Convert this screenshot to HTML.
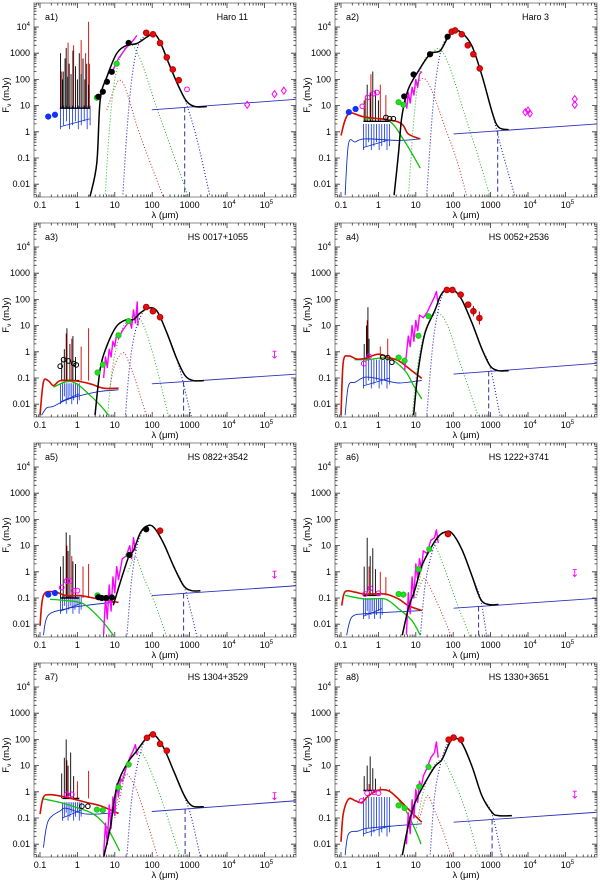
<!DOCTYPE html>
<html><head><meta charset="utf-8">
<style>
html,body{margin:0;padding:0;background:#fff;}
svg{display:block;font-family:"Liberation Sans",sans-serif;}
</style></head>
<body>
<svg id="fig" width="600" height="881" viewBox="0 0 600 881" xmlns="http://www.w3.org/2000/svg"></svg>
<script>
const panelLabels=["a1)","a2)","a3)","a4)","a5)","a6)","a7)","a8)"];
const galaxyNames=["Haro 11","Haro 3","HS 0017+1055","HS 0052+2536","HS 0822+3542","HS 1222+3741","HS 1304+3529","HS 1330+3651"];
const xTickLabels=["0.1","1","10","100","1000","10^4","10^5"];
const yTickLabels=["0.01","0.1","1","10","100","1000","10^4"];
// all values are [log10 lambda(um), log10 F(mJy)]
const totalModel=[
[[0.34,-2.46],[0.52,-1.19],[0.61,1.22],[0.79,2.1],[1.05,2.99],[1.32,3.3],[1.59,3.37],[1.86,3.62],[2.04,3.75],[2.21,3.43],[2.48,2.48],[2.75,1.6],[2.93,1.15],[3.15,0.96],[3.46,0.96]],
[[0.42,-2.42],[0.54,-0.78],[0.63,0.62],[0.8,1.63],[1.07,2.32],[1.38,2.96],[1.65,3.09],[1.83,3.53],[2.01,3.85],[2.23,3.78],[2.5,3.28],[2.77,2.14],[3.04,0.75],[3.21,0.18],[3.48,0.08]],
[[0.47,-2.42],[0.61,-0.66],[0.79,0.23],[1.05,0.98],[1.32,1.23],[1.5,1.23],[1.68,1.48],[1.9,1.67],[2.13,1.55],[2.39,0.73],[2.66,-0.28],[2.88,-0.91],[3.1,-1.1],[3.38,-1.1]],
[[0.94,-2.42],[1.07,-0.66],[1.25,0.73],[1.52,1.61],[1.65,2.11],[1.79,2.36],[2.01,2.36],[2.23,1.99],[2.5,1.11],[2.77,0.1],[2.99,-0.54],[3.21,-0.72],[3.48,-0.72]],
[[0.96,-1.28],[1.14,-0.43],[1.37,0.57],[1.5,0.81],[1.68,1.48],[1.86,1.75],[2.04,1.7],[2.3,1.1],[2.57,0.22],[2.84,-0.53],[3.06,-0.72],[3.29,-0.72]],
[[0.64,-2.42],[0.8,-1.41],[0.98,-0.66],[1.16,0.23],[1.43,0.98],[1.61,1.36],[1.79,1.52],[1.96,1.49],[2.23,0.86],[2.5,-0.15],[2.73,-1.04],[2.95,-1.25],[3.21,-1.25]],
[[0.7,-2.51],[0.88,-1.36],[1.05,0.17],[1.32,1.06],[1.59,1.57],[1.86,2.08],[2.04,2.19],[2.3,1.7],[2.57,0.81],[2.84,-0.09],[3.06,-0.53],[3.38,-0.57]],
[[0.64,-2.42],[0.8,-1.29],[0.98,-0.41],[1.25,0.35],[1.52,0.98],[1.7,1.23],[1.88,1.8],[2.01,2.05],[2.23,1.86],[2.5,0.98],[2.77,-0.16],[3.04,-0.79],[3.21,-0.91],[3.57,-0.91]]];
const radioLine=[[[1.99,0.84],[5.86,1.24]],[[2.01,-0.08],[5.86,0.3]],[[1.99,-1.22],[5.86,-0.85]],[[2.01,-0.85],[5.86,-0.44]],[[1.99,-0.91],[5.86,-0.53]],[[2.01,-1.39],[5.86,-1.01]],[[1.99,-0.75],[5.86,-0.34]],[[2.01,-1.16],[5.86,-0.78]]];
const dashX=[2.87,3.19,2.84,2.95,2.84,2.68,2.88,3.04];
const redStellar=[[],
[[-1,-0.14],[-0.8,0.68],[-0.36,0.56],[0.54,0.37],[0.8,-0.08],[1.12,-0.27]],
[[-1,-2.42],[-0.91,-1.16],[-0.78,-1.1],[-0.64,-1.29],[-0.46,-1.1],[-0.11,-1.1],[0.34,-1.22],[0.7,-1.39],[1.1,-1.39]],
[[-1,-2.42],[-0.94,-0.41],[-0.8,-0.16],[-0.58,-0.28],[-0.36,-0.25],[0,-0.09],[0.27,-0.22],[0.54,-0.34],[0.89,-0.72],[1.16,-1.01]],
[[-1,-2.06],[-0.91,-0.91],[-0.64,-0.76],[-0.29,-0.91],[0.07,-0.91],[0.61,-1.05],[1.1,-1.17]],
[[-0.98,-1.29],[-0.89,-0.76],[-0.62,-0.78],[-0.36,-0.85],[0.18,-0.85],[0.54,-1.04],[0.8,-1.29],[1.16,-1.48]],
[[-1,-0.85],[-0.91,-0.21],[-0.73,-0.11],[-0.29,-0.21],[0.25,-0.41],[0.61,-0.53],[1.1,-0.83]],
[[-1,-1.91],[-0.94,-0.85],[-0.8,-0.28],[-0.62,-0.34],[-0.45,-0.41],[-0.27,-0.16],[0,0.06],[0.27,0.04],[0.54,-0.28],[0.89,-0.79],[1.16,-1.16]]];
const greenStellar=[[],
[[-0.36,0.49],[0.27,0.43],[0.71,-0.39],[1.12,-1.39]],
[[-0.64,-1.35],[-0.29,-1.14],[-0.02,-1.22],[0.34,-1.66],[0.61,-2.04],[0.83,-2.42]],
[[-0.64,-0.3],[-0.29,-0.3],[0.27,-0.25],[0.71,-0.72],[0.94,-1.29],[1.16,-1.8]],
[[-0.73,-1.05],[-0.29,-1.1],[0.16,-1.22],[0.61,-1.79],[0.96,-2.42]],
[[-0.89,-0.9],[-0.36,-1.04],[0.18,-1.04],[0.54,-1.41],[0.89,-1.85],[1.12,-2.42]],
[[-0.91,-0.27],[-0.46,-0.41],[-0.02,-0.6],[0.43,-0.85],[0.79,-1.36],[1.13,-2.26]],
[[0.54,-0.3],[0.8,-0.88],[1.07,-1.73],[1.14,-2.0]]];
const blueStellar=[[],
[[-0.89,-2.42],[-0.8,-0.46],[-0.62,-0.39],[-0.36,-0.27],[0.54,-0.33],[1.12,-0.27]],
[[-0.96,-2.42],[-0.82,-2.14],[-0.64,-2.08],[-0.29,-1.83],[0.16,-1.64],[0.61,-1.51],[1.1,-1.45]],
[[-0.89,-2.42],[-0.8,-1.29],[-0.62,-1.16],[-0.36,-0.97],[0,-1.03],[0.54,-1.19],[1.16,-1.09]],
[[-0.91,-2.42],[-0.78,-1.66],[-0.29,-1.41],[0.25,-1.28],[1.1,-1.14]],
[[-0.85,-2.42],[-0.71,-1.73],[-0.36,-1.6],[0.18,-1.55],[1.16,-1.48]],
[[-0.91,-2.13],[-0.78,-1.11],[-0.46,-0.73],[-0.29,-0.63],[0.25,-0.85],[1.1,-0.79]],
[[-0.89,-2.42],[-0.8,-1.61],[-0.54,-1.5],[-0.36,-1.41],[0,-1.35],[0.54,-1.29],[1.16,-1.22]]];
const dotRed=[
[[0.79,0.84],[1.0,1.7],[1.14,1.97],[1.3,1.6],[1.6,0.2],[1.9,-1.0],[2.3,-2.5]],
[[0.98,1.66],[1.1,1.95],[1.25,2.01],[1.45,1.5],[1.8,0.1],[2.1,-1.1],[2.37,-2.5]],
[[0.85,-1.5],[1.0,-0.5],[1.23,-0.03],[1.4,-0.5],[1.6,-1.3],[1.86,-2.5]],
[],[],
[[1.0,-1.0],[1.15,-0.4],[1.25,-0.28],[1.45,-0.8],[1.7,-1.6],[1.96,-2.5]],
[[1.1,-0.5],[1.25,0.5],[1.35,0.65],[1.6,0.0],[1.85,-1.1],[2.15,-2.5]],
[[1.1,-1.0],[1.25,-0.3],[1.34,-0.16],[1.5,-0.7],[1.7,-1.4],[1.96,-2.5]]];
const dotGreen=[
[[0.74,-2.5],[0.85,0.0],[1.0,2.0],[1.2,3.0],[1.41,3.37],[1.7,2.7],[2.1,1.0],[2.5,-0.6],[2.97,-2.5]],
[[0.8,-2.5],[0.95,0.5],[1.1,2.2],[1.3,2.9],[1.5,3.1],[1.65,3.15],[1.9,2.5],[2.3,0.7],[2.7,-1.1],[2.99,-2.5]],
[[0.8,-2.5],[0.95,-0.5],[1.15,0.7],[1.35,1.2],[1.59,1.36],[1.8,0.9],[2.1,-0.5],[2.44,-2.5]],
[[0.9,-2.5],[1.05,-0.5],[1.25,0.8],[1.45,1.35],[1.61,1.48],[1.85,1.0],[2.2,-0.5],[2.68,-2.5]],
[[1.35,0.0],[1.5,0.5],[1.59,0.5],[1.8,-0.3],[2.1,-1.3],[2.39,-2.5]],
[[1.0,-1.0],[1.2,0.3],[1.4,0.9],[1.52,1.0],[1.8,0.0],[2.1,-1.2],[2.46,-2.5]],
[[1.0,-1.0],[1.2,0.6],[1.45,1.3],[1.68,1.51],[1.9,1.0],[2.3,-0.5],[2.75,-2.5]],
[[1.0,-1.5],[1.2,0.0],[1.45,0.9],[1.7,1.23],[1.9,0.8],[2.3,-0.6],[2.68,-2.5]]];
const dotBlue=[
[[1.21,-2.5],[1.35,0.5],[1.5,2.5],[1.68,3.49],[1.86,3.62],[2.04,3.75],[2.21,3.43],[2.48,2.48],[2.75,1.6],[2.93,1.0],[3.2,-0.3],[3.55,-2.5]],
[[1.29,-2.5],[1.45,0.8],[1.6,2.6],[1.75,3.4],[1.92,3.66],[2.05,3.85],[2.23,3.78],[2.5,3.28],[2.77,2.14],[3.04,0.75],[3.3,-0.7],[3.66,-2.5]],
[[1.28,-2.5],[1.4,-0.5],[1.55,0.8],[1.75,1.5],[1.9,1.67],[2.13,1.55],[2.39,0.73],[2.66,-0.28],[2.85,-1.3],[3.05,-2.5]],
[[1.29,-2.5],[1.45,0.2],[1.6,1.6],[1.75,2.3],[1.9,2.4],[2.01,2.36],[2.23,1.99],[2.5,1.11],[2.77,0.1],[2.99,-0.6],[3.26,-2.5]],
[[1.32,-2.5],[1.45,-0.3],[1.6,1.0],[1.75,1.6],[1.86,1.75],[2.04,1.7],[2.3,1.1],[2.57,0.22],[2.84,-0.53],[3.0,-1.3],[3.2,-2.5]],
[[1.12,-2.5],[1.25,-0.5],[1.45,0.8],[1.65,1.4],[1.79,1.52],[1.96,1.49],[2.23,0.86],[2.5,-0.15],[2.73,-1.04],[2.9,-2.5]],
[[1.32,-2.5],[1.45,-0.3],[1.6,1.0],[1.75,1.8],[1.86,2.08],[2.04,2.19],[2.3,1.7],[2.57,0.81],[2.84,-0.09],[3.05,-1.0],[3.29,-2.5]],
[[1.38,-2.5],[1.5,-0.2],[1.65,1.0],[1.8,1.7],[1.88,1.85],[2.01,2.05],[2.23,1.86],[2.5,0.98],[2.77,-0.16],[3.04,-0.85],[3.3,-2.5]]];
const irsSpectrum=[
[[0.79,2.1],[0.85,2.3],[0.9,2.2],[1.0,2.5],[1.1,2.8],[1.2,3.0],[1.3,3.2],[1.4,3.35],[1.5,3.5],[1.59,3.68]],
[[0.71,1.2],[0.76,0.9],[0.8,1.5],[0.85,1.1],[0.9,1.7],[0.95,1.4],[1.0,2.0],[1.05,1.7],[1.1,2.2],[1.16,2.3]],
[[0.7,-1.0],[0.75,-0.2],[0.8,-0.6],[0.85,0.1],[0.9,-0.2],[0.95,0.4],[1.0,0.2],[1.05,0.7],[1.1,0.5],[1.2,0.8],[1.3,1.0],[1.4,1.2],[1.45,0.9],[1.5,1.6],[1.55,1.1],[1.6,1.9],[1.62,1.0]],
[[0.7,-0.7],[0.75,-0.1],[0.8,0.6],[0.85,0.2],[0.9,1.0],[0.95,0.4],[1.0,1.2],[1.05,0.8],[1.1,1.4],[1.2,1.3],[1.3,1.5],[1.4,1.8],[1.5,2.1],[1.55,2.3],[1.6,1.8]],
[[0.7,-2.4],[0.75,-1.0],[0.8,-1.8],[0.85,-0.5],[0.9,-1.5],[0.95,-0.2],[1.0,-0.8],[1.05,0.2],[1.1,-0.3],[1.2,0.5],[1.3,0.6],[1.4,1.0],[1.45,0.5],[1.5,1.3],[1.55,0.8]],
[[0.75,-2.4],[0.8,-0.8],[0.85,-1.6],[0.9,-0.2],[0.95,-1.0],[1.0,0.3],[1.05,-0.3],[1.1,0.5],[1.15,0.1],[1.2,0.8],[1.3,0.7],[1.4,1.2],[1.5,1.3],[1.55,1.6],[1.6,1.1]],
[[0.7,-2.4],[0.75,-1.2],[0.8,-2.0],[0.85,-0.5],[0.9,-1.4],[0.95,-0.2],[1.0,-0.9],[1.05,0.3],[1.1,-0.2],[1.15,0.5],[1.2,0.4],[1.3,0.9],[1.4,1.3],[1.5,1.6],[1.55,1.8],[1.6,1.4]],
[[0.75,-2.0],[0.8,-0.8],[0.85,-1.6],[0.9,-0.3],[0.95,-1.0],[1.0,0.1],[1.05,-0.4],[1.1,0.4],[1.15,0.2],[1.2,0.6],[1.3,0.9],[1.4,1.3],[1.5,1.5],[1.55,1.9],[1.6,1.3]]];
const specBase=[[-0.47,0.34,0.9],[-0.4,0.3,0.4],[-0.45,0.05,-1.1],[-0.4,-0.25,-0.3],[-0.45,0.05,-1.0],[-0.4,0.05,-0.9],[-0.4,0.05,-0.25],[-0.4,0.05,0.05]];
const blackSpikes=[
[[-0.45,3.0],[-0.4,2.0],[-0.38,2.3],[-0.33,2.8],[-0.3,3.2],[-0.26,2.1],[-0.22,2.6],[-0.17,2.2],[-0.12,3.1],[-0.05,2.5],[0.0,2.0],[0.05,3.0],[0.1,2.2],[0.15,2.8],[0.2,2.0],[0.25,2.6],[0.3,1.8]],
[[-0.38,1.2],[-0.3,1.8],[-0.22,1.5],[-0.15,2.3],[-0.08,1.6],[0,1.2]],
[[-0.42,-0.3],[-0.35,0.1],[-0.28,0.9],[-0.2,0.3],[-0.12,0.6],[-0.05,-0.2]],
[[-0.38,0.3],[-0.32,1.0],[-0.28,1.7],[-0.25,0.5]],
[[-0.45,0.2],[-0.38,0.6],[-0.3,1.5],[-0.25,0.8],[-0.2,1.4],[-0.12,0.4],[-0.05,0.3]],
[[-0.38,0.2],[-0.3,1.3],[-0.22,0.6],[-0.15,0.9],[-0.08,0.1]],
[[-0.42,0.7],[-0.35,1.3],[-0.3,2.0],[-0.25,1.0],[-0.18,1.5],[-0.1,0.6]],
[[-0.38,0.6],[-0.3,1.0],[-0.22,1.35],[-0.15,0.9],[-0.08,0.5]]];
const redSpikes=[
[[-0.42,2.3],[-0.25,3.4],[-0.1,3.3],[0.1,3.5],[0.22,3.0],[0.3,4.2],[0.32,2.6]],
[[-0.35,1.3],[-0.2,2.2],[0.05,1.8],[0.2,1.4]],
[[-0.3,0.7],[-0.15,0.5],[0.1,0.2],[0.3,0.9]],
[[-0.3,1.2],[0.05,0.2],[0.25,0.5]],
[[-0.28,1.0],[-0.15,0.6],[0.15,0.2],[0.3,0.3]],
[[-0.25,0.2],[0.05,0.0],[0.2,-0.2]],
[[-0.28,1.2],[0,0.4],[0.3,0.8]],
[[-0.25,0.3],[0.05,0.2],[0.3,0.1]]];
const blueComb=[[-0.45,0.34,1.0,0.1],[-0.4,0.3,0.3,-0.7],[-0.45,0.05,-1.2,-2.0],[-0.4,0.3,-0.3,-1.4],[-0.45,0.1,-0.9,-1.6],[-0.4,0.1,-1.0,-1.8],[-0.4,0.1,-0.4,-1.1],[-0.4,0.3,-0.2,-1.7]];
const redPoints=[
[[1.84,3.78],[2.02,3.72],[2.21,3.39],[2.39,2.84],[2.55,2.38],[2.71,1.97]],
[[1.96,3.82],[2.05,3.87],[2.23,3.72],[2.39,3.3],[2.54,2.96],[2.71,2.42]],
[[1.84,1.71],[2.02,1.55],[2.21,1.32]],
[[1.83,2.36],[1.98,2.36],[2.2,2.18],[2.4,1.8],[2.54,1.55],[2.7,1.29]],
[[2.21,1.57]],
[[1.86,1.44]],
[[1.86,2.06],[2.02,2.19],[2.21,1.83],[2.39,1.57]],
[[1.88,1.99],[2.01,2.07],[2.21,1.99]]];
const blackPoints=[
[[0.56,1.34],[0.68,1.53],[0.79,1.91],[0.92,2.29],[1.37,3.39]],
[[0.69,1.35],[0.94,2.19],[1.38,2.96],[1.85,3.63]],
[],[],
[[0.56,-0.97],[0.65,-1.0],[0.77,-1.0],[0.92,-0.98],[1.39,0.64],[1.84,1.62]],
[],[],[]];
const greenPoints=[
[[0.52,1.3],[1.05,2.6]],
[[0.54,1.13],[0.67,1.03]],
[[0.54,-0.79],[0.68,-0.49],[1.1,0.63],[1.37,1.17]],
[[0.54,-0.22],[0.7,-0.34],[1.07,0.61],[1.34,1.36]],
[[0.54,-0.9],[1.37,0.64]],
[[0.54,-0.85],[0.67,-0.87],[1.07,0.1],[1.36,0.86]],
[[0.52,-0.68],[0.68,-0.7],[1.1,0.17],[1.37,1.04]],
[[0.54,-0.52],[0.7,-0.62],[1.09,0.2],[1.34,0.95]]];
const bluePoints=[[[-0.78,0.58],[-0.6,0.65]],[[-0.79,0.75],[-0.61,0.87]],[],[],[[-0.78,-0.87],[-0.6,-0.81]],[],[],[]];
const magentaOpen=[[[2.93,1.62]],
[[-0.43,0.97],[-0.29,1.31],[-0.13,1.46],[-0.04,1.5]],
[],
[[-0.39,-0.45],[-0.25,-0.17]],
[[-0.42,-0.6],[-0.29,-0.35],[-0.2,-0.35],[-0.1,-0.72],[0,-0.72]],
[[-0.36,-0.85],[-0.22,-0.63],[0,-0.82]],
[[-0.29,-0.1],[-0.15,-0.1]],
[[-0.45,-0.35],[-0.3,-0.05],[-0.12,-0.02],[0,-0.05]]];
const blackOpen=[[],[[0.2,0.55],[0.3,0.5],[0.4,0.5]],[[-0.46,-0.55],[-0.37,-0.3],[-0.24,-0.35],[-0.1,-0.45],[-0.03,-0.5]],[[0.12,-0.2],[0.25,-0.22],[0.36,-0.4]],[],[],[[0.12,-0.55],[0.28,-0.55]],[]];
const magentaDiamonds=[[[4.54,1.03],[5.27,1.44],[5.52,1.57]],[[3.93,0.75],[4.0,0.81],[4.05,0.7],[5.25,1.25],[5.25,1.03]],[],[],[],[],[],[]];
const upperLimits=[[],[],[5.27,-0.09],[],[5.27,-0.09],[5.25,-0.03],[5.27,-0.15],[5.25,-0.09]];

const NS="http://www.w3.org/2000/svg";
const svg=document.getElementById('fig');
function el(tag,attrs,parent){const e=document.createElementNS(NS,tag);for(const k in attrs)e.setAttribute(k,attrs[k]);(parent||svg).appendChild(e);return e;}
const W=262,H=194,DEC_X=37.4,DEC_Y=26.2;

for(let i=0;i<8;i++){
  const x0=(i%2)?335:34, y0=3+Math.floor(i/2)*220;
  const X=lx=>x0+6+(lx+1)*DEC_X;
  const Y=ly=>y0+24+(4-ly)*DEC_Y;
  const g=el('g',{});
  
  
  const cp=el('clipPath',{id:'cp'+i},g);
  el('rect',{x:x0,y:y0,width:W,height:H},cp);
  const plot=el('g',{'clip-path':'url(#cp'+i+')'},g);
  const pts=a=>a.map(p=>X(p[0]).toFixed(1)+','+Y(p[1]).toFixed(1)).join(' ');
  function smoothPath(arr){
    const P=arr.map(p=>[X(p[0]),Y(p[1])]);
    let d='M'+P[0][0].toFixed(1)+','+P[0][1].toFixed(1);
    for(let k=0;k<P.length-1;k++){
      const p0=P[k-1]||P[k],p1=P[k],p2=P[k+1],p3=P[k+2]||P[k+1];
      const c1=[p1[0]+(p2[0]-p0[0])/6,p1[1]+(p2[1]-p0[1])/6];
      const c2=[p2[0]-(p3[0]-p1[0])/6,p2[1]-(p3[1]-p1[1])/6];
      d+=`C${c1[0].toFixed(1)},${c1[1].toFixed(1)} ${c2[0].toFixed(1)},${c2[1].toFixed(1)} ${p2[0].toFixed(1)},${p2[1].toFixed(1)}`;
    }
    return d;
  }
  function line(arr,stroke,w,dash,name,smooth){
    if(!arr.length)return;
    const e=smooth?el('path',{d:smoothPath(arr),fill:'none',stroke:stroke,'stroke-width':w,'stroke-linejoin':'round'},plot)
                  :el('polyline',{points:pts(arr),fill:'none',stroke:stroke,'stroke-width':w,'stroke-linejoin':'round'},plot);
    if(dash)e.setAttribute('stroke-dasharray',dash);
    
    
  }
  // blue comb
  const c=blueComb[i];
  for(let k=0;k<=10;k++){
    const lx=c[0]+(c[1]-c[0])*k/10;
    const l=el('line',{x1:X(lx),x2:X(lx),y1:Y(c[2]),y2:Y(c[3]+(k%3)*0.15),stroke:'#1030e0','stroke-width':0.8},plot);
    
    
  }
  line([[c[0],c[3]+0.1],[c[1],c[3]+0.4]],'#1030e0',0.8,null,'blue-spectrum-base');
  // spectra spikes
  redSpikes[i].forEach(s=>{const l=el('line',{x1:X(s[0]),x2:X(s[0]),y1:Y(specBase[i][2]),y2:Y(s[1]),stroke:'#d00000','stroke-width':0.9},plot);
    
    });
  blackSpikes[i].forEach(s=>{const l=el('line',{x1:X(s[0]),x2:X(s[0]),y1:Y(specBase[i][2]),y2:Y(s[1]),stroke:'#000','stroke-width':0.9},plot);
    
    });
  const sb=specBase[i];
  line([[sb[0],sb[2]],[sb[1],sb[2]]],'#000',1.4,null,'optical-spectrum');
  line(blueStellar[i],'#1030c0',0.9,null,'young-stellar-continuum',true);
  line(greenStellar[i],'#10c010',1.3,null,'old-stellar-component',true);
  line(redStellar[i],'#d01000',1.6,null,'total-stellar-model',true);
  line(irsSpectrum[i],'#ff00ff',1.4,null,'irs-spectrum');
  line(dotRed[i],'#c03030',1,'1,2','hot-dust-component',true);
  line(dotGreen[i],'#20b020',1,'1,2','warm-dust-component',true);
  line(dotBlue[i],'#2020b0',1.1,'1,2','cold-dust-component',true);
  line(radioLine[i],'#3030c0',0.9,null,'radio-continuum');
  const rl=radioLine[i];
  const yd=rl[0][1]+(rl[1][1]-rl[0][1])*(dashX[i]-rl[0][0])/(rl[1][0]-rl[0][0]);
  line([[dashX[i],yd],[dashX[i],-2.6]],'#3030a0',1,'5,3','dust-radio-boundary');
  line(totalModel[i],'#000',1.5,null,'total-sed-model',true);
  function dots(arr,fill,stroke,r,name,open){
    arr.forEach(p=>{const e=el('circle',{cx:X(p[0]),cy:Y(p[1]),r:r,fill:open?'none':fill,stroke:stroke,'stroke-width':1},plot);
      
      });
  }
  dots(bluePoints[i],'#1030ff','#1030ff',2.6,'uv-photometry');
  dots(greenPoints[i],'#20e020','#20c020',2.6,'irac-photometry');
  dots(blackPoints[i],'#000','#000',2.6,'ir-photometry');
  dots(redPoints[i],'#e01010','#c00000',2.8,'far-ir-photometry');
  dots(magentaOpen[i],'#f0f','#f0f',2.4,'optical-photometry',true);
  dots(blackOpen[i],'#000','#000',2.3,'nir-photometry',true);
  magentaDiamonds[i].forEach(p=>{const x=X(p[0]),y=Y(p[1]);
    const e=el('polygon',{points:`${x},${y-3.5} ${x+2.5},${y} ${x},${y+3.5} ${x-2.5},${y}`,fill:'none',stroke:'#f0f','stroke-width':1},plot);
    
    });
  if(upperLimits[i].length){const x=X(upperLimits[i][0]),y=Y(upperLimits[i][1]);
    const e=el('path',{d:`M${x-2},${y-3}h4M${x},${y-3}v7M${x-2},${y+2}l2,2l2,-2`,fill:'none',stroke:'#f0f','stroke-width':0.9},plot);
    
    }
  if(i===3){[[2.54,1.55,0.2],[2.7,1.29,0.25]].forEach(p=>line([[p[0],p[1]-p[2]],[p[0],p[1]+p[2]]],'#c00000',1,null,'error-bar'));}
  // frame
  const fr=el('rect',{x:x0,y:y0,width:W,height:H,fill:'none',stroke:'#888','stroke-width':1},g);
  
  
  // ticks
  let tk='';
  for(let d=-2;d<=6;d++)for(let m=1;m<=9;m++){const lx=d+Math.log10(m);const x=X(lx);if(x<x0+0.5||x>x0+W-0.5)continue;const L=m===1?5:2.5;tk+=`M${x.toFixed(1)},${y0+H}v${-L}M${x.toFixed(1)},${y0}v${L}`;}
  for(let d=-3;d<=5;d++)for(let m=1;m<=9;m++){const ly=d+Math.log10(m);const y=Y(ly);if(y<y0+0.5||y>y0+H-0.5)continue;const L=m===1?5:2.5;tk+=`M${x0},${y.toFixed(1)}h${L}M${x0+W},${y.toFixed(1)}h${-L}`;}
  const t=el('path',{d:tk,stroke:'#333','stroke-width':0.8,fill:'none'},g);
  
  
  function txt(s,x,y,anchor,name,size){
    const e=el('text',{x:x,y:y,'text-anchor':anchor,'font-size':size||9,fill:'#000'},g);
    const m=s.match(/^10\^(\d)$/);
    if(m){e.textContent='10';const ts=el('tspan',{dy:-4,'font-size':6},e);ts.textContent=m[1];}
    else e.textContent=s;
    
    
    return e;
  }
  xTickLabels.forEach((s,k)=>txt(s,X(k-1)+(s.includes('^')?2:0),y0+H+11,'middle','x-tick-label'));
  yTickLabels.forEach((s,k)=>txt(s,x0-4,Y(k-2)+3,'end','y-tick-label'));
  txt(panelLabels[i],x0+11,y0+17,'start','panel-label');
  txt(galaxyNames[i],x0+214,y0+17,'end','galaxy-name');
  const xt=el('text',{x:x0+W/2,y:y0+H+21,'text-anchor':'middle','font-size':9.5},g);
  xt.textContent='λ (μm)';
  
  
  const yt=el('text',{x:0,y:0,'text-anchor':'middle','font-size':9.5,transform:`translate(${x0-25},${y0+H/2-5}) rotate(-90)`},g);
  yt.textContent='F';
  const sub=el('tspan',{dy:2,'font-size':6.5},yt);sub.textContent='ν';
  const rest=el('tspan',{dy:-2},yt);rest.textContent=' (mJy)';
  
  
}
</script>
</body></html>
